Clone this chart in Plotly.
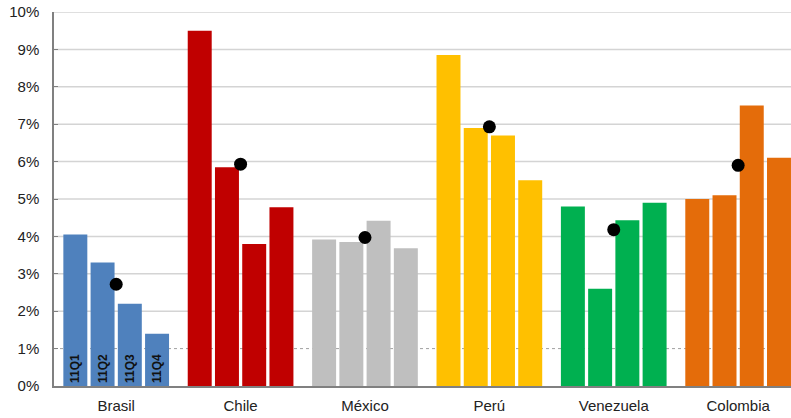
import plotly.graph_objects as go

countries = ["Brasil", "Chile", "México", "Perú", "Venezuela", "Colombia"]
quarters = ["11Q1", "11Q2", "11Q3", "11Q4"]
q1 = [4.05, 9.50, 3.92, 8.85, 4.80, 5.00]
q2 = [3.30, 5.85, 3.85, 6.90, 2.60, 5.10]
q3 = [2.20, 3.80, 4.42, 6.70, 4.43, 7.50]
q4 = [1.40, 4.78, 3.68, 5.50, 4.90, 6.10]
year_avg = [2.72, 5.93, 3.97, 6.93, 4.18, 5.90]
colors = ["#4F81BD", "#C00000", "#BFBFBF", "#FFC000", "#00B050", "#E46C0A"]
y_ticks = [0, 1, 2, 3, 4, 5, 6, 7, 8, 9, 10]
y_tick_labels = [f"{v}%" for v in y_ticks]

fig = go.Figure()
for qname, vals in zip(quarters, [q1, q2, q3, q4]):
    fig.add_trace(go.Bar(
        x=countries, y=vals, name=qname,
        marker=dict(color=colors, line=dict(width=0)),
        text=[f"<b>{qname}</b>"] + [""] * (len(countries) - 1),
        textposition="inside", insidetextanchor="start", textangle=-90,
        constraintext="none",
        insidetextfont=dict(family="Liberation Sans", size=12, color="#111111"),
        showlegend=False, hoverinfo="skip",
    ))

fig.add_trace(go.Scatter(
    x=countries, y=year_avg, mode="markers",
    marker=dict(color="black", size=13), showlegend=False, hoverinfo="skip",
))

# gridlines: 1% dotted, others solid
for v in y_ticks[1:]:
    fig.add_shape(type="line", xref="paper", yref="y", x0=0, x1=1, y0=v, y1=v,
                  line=dict(color="#a0a0a0" if v == 1 else "#d4d4d4",
                            width=1 if v == 1 else 1.5,
                            dash="dot" if v == 1 else "solid"),
                  layer="below")

fig.update_layout(
    width=791, height=418,
    margin=dict(l=54, r=0, t=12, b=32),
    paper_bgcolor="white", plot_bgcolor="white",
    barmode="group", bargap=0.124, bargroupgap=0.12,
    font=dict(family="Liberation Sans", size=15, color="#222222"),
    xaxis=dict(range=[-0.5, 5.425], showgrid=False, showline=True,
               linecolor="#808080", linewidth=1.5, ticks="", automargin=False,
               ticklabelstandoff=5,
               tickfont=dict(size=15, color="#222222")),
    yaxis=dict(range=[0, 10], tickvals=y_ticks, ticktext=y_tick_labels,
               showgrid=False, showline=True, linecolor="#808080", linewidth=1.5,
               ticks="inside", ticklen=4, tickcolor="#808080", automargin=False,
               ticklabeloverflow="allow", ticklabelstandoff=10,
               zeroline=False, tickfont=dict(size=15, color="#222222")),
)

fig.write_html("out.html", config={"displayModeBar": False},
               post_script="document.body.style.margin='0px';document.body.style.overflow='hidden';")
